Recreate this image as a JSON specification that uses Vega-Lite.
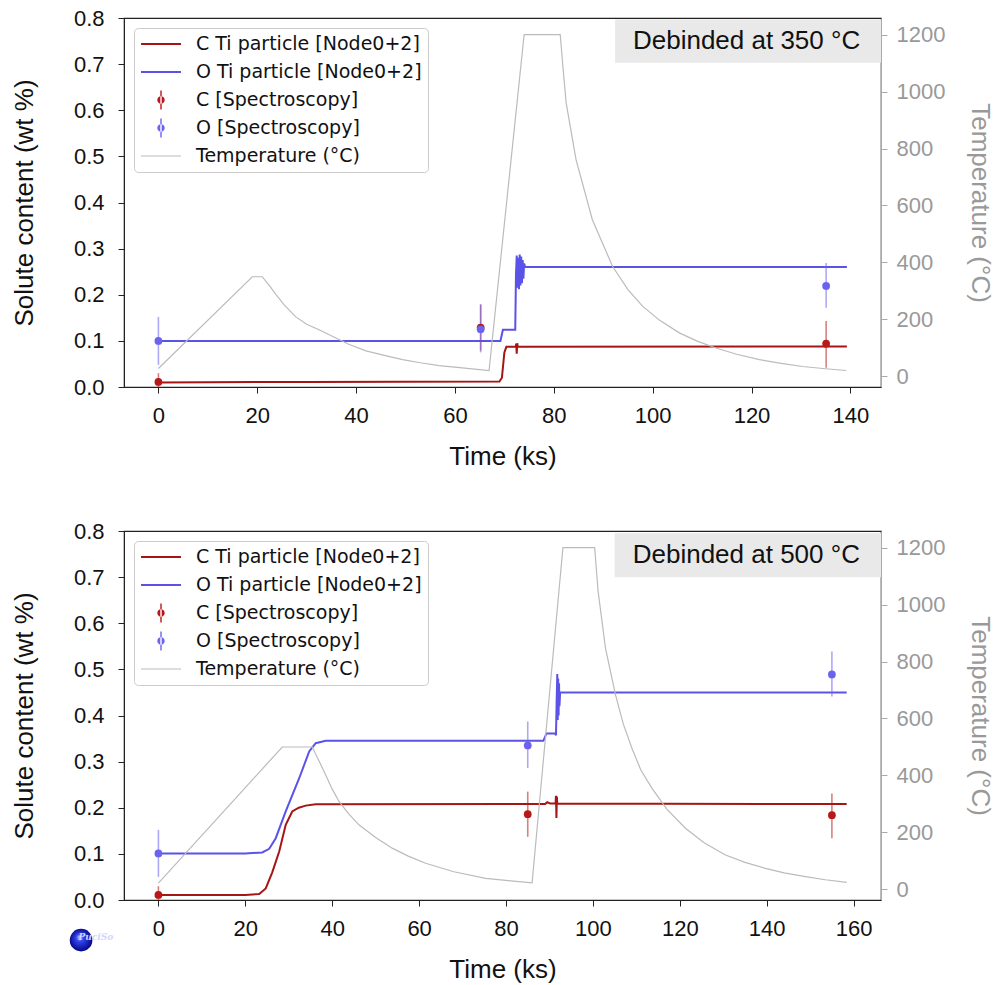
{
  "$schema": "https://vega.github.io/schema/vega-lite/v6.json",
  "background": "white",
  "padding": {"left": 10, "top": 6, "right": 2, "bottom": 2},
  "spacing": 49,
  "config": {
    "font": "Liberation Sans",
    "view": {"stroke": "#222222", "strokeWidth": 1.2},
    "axis": {"grid": false, "labelFont": "Liberation Sans", "labelFontSize": 22, "labelColor": "#111111", "titleFont": "Liberation Sans", "titleFontSize": 26, "titleFontWeight": "normal", "titleColor": "#111111", "domainColor": "#222222", "tickColor": "#222222", "tickSize": 6, "tickWidth": 1, "labelFlush": false, "labelOverlap": false},
    "legend": {"title": null, "orient": "top-left", "offset": 10, "padding": 6, "rowPadding": 8, "symbolSize": 400, "symbolStrokeWidth": 0, "symbolOffset": 11, "labelOffset": 25, "labelFont": "DejaVu Sans", "labelFontSize": 19, "labelColor": "#111111", "labelLimit": 400, "fillColor": "white", "strokeColor": "#cccccc", "cornerRadius": 4}
  },
  "datasets": {
    "temp350": [
      {"t": 0, "T": 28, "series": "Temperature (°C)"},
      {"t": 19.0, "T": 350, "series": "Temperature (°C)"},
      {"t": 21.0, "T": 350, "series": "Temperature (°C)"},
      {"t": 22.5, "T": 318, "series": "Temperature (°C)"},
      {"t": 23.8, "T": 287, "series": "Temperature (°C)"},
      {"t": 25.5, "T": 250, "series": "Temperature (°C)"},
      {"t": 27.8, "T": 209, "series": "Temperature (°C)"},
      {"t": 30.0, "T": 183, "series": "Temperature (°C)"},
      {"t": 32.5, "T": 164, "series": "Temperature (°C)"},
      {"t": 35.2, "T": 141, "series": "Temperature (°C)"},
      {"t": 38.5, "T": 113, "series": "Temperature (°C)"},
      {"t": 42.0, "T": 90, "series": "Temperature (°C)"},
      {"t": 45.5, "T": 75, "series": "Temperature (°C)"},
      {"t": 49.4, "T": 59, "series": "Temperature (°C)"},
      {"t": 53.0, "T": 48, "series": "Temperature (°C)"},
      {"t": 56.8, "T": 38, "series": "Temperature (°C)"},
      {"t": 62.0, "T": 29, "series": "Temperature (°C)"},
      {"t": 66.9, "T": 21, "series": "Temperature (°C)"},
      {"t": 74.0, "T": 1200, "series": "Temperature (°C)"},
      {"t": 81.3, "T": 1200, "series": "Temperature (°C)"},
      {"t": 81.9, "T": 1076, "series": "Temperature (°C)"},
      {"t": 82.5, "T": 960, "series": "Temperature (°C)"},
      {"t": 84.5, "T": 761, "series": "Temperature (°C)"},
      {"t": 87.8, "T": 550, "series": "Temperature (°C)"},
      {"t": 91.9, "T": 386, "series": "Temperature (°C)"},
      {"t": 95.0, "T": 305, "series": "Temperature (°C)"},
      {"t": 98.0, "T": 246, "series": "Temperature (°C)"},
      {"t": 101.5, "T": 196, "series": "Temperature (°C)"},
      {"t": 105.4, "T": 153, "series": "Temperature (°C)"},
      {"t": 109.0, "T": 124, "series": "Temperature (°C)"},
      {"t": 112.8, "T": 100, "series": "Temperature (°C)"},
      {"t": 117.0, "T": 78, "series": "Temperature (°C)"},
      {"t": 121.6, "T": 59, "series": "Temperature (°C)"},
      {"t": 126.0, "T": 46, "series": "Temperature (°C)"},
      {"t": 130.3, "T": 35, "series": "Temperature (°C)"},
      {"t": 135.0, "T": 27, "series": "Temperature (°C)"},
      {"t": 139.2, "T": 21, "series": "Temperature (°C)"}
    ],
    "model350": [
      {"t": 0, "c": 0.010, "series": "C Ti particle [Node0+2]"},
      {"t": 30, "c": 0.011, "series": "C Ti particle [Node0+2]"},
      {"t": 69.0, "c": 0.012, "series": "C Ti particle [Node0+2]"},
      {"t": 69.5, "c": 0.02, "series": "C Ti particle [Node0+2]"},
      {"t": 70.0, "c": 0.075, "series": "C Ti particle [Node0+2]"},
      {"t": 70.4, "c": 0.087, "series": "C Ti particle [Node0+2]"},
      {"t": 72.3, "c": 0.087, "series": "C Ti particle [Node0+2]"},
      {"t": 72.4, "c": 0.094, "series": "C Ti particle [Node0+2]"},
      {"t": 72.5, "c": 0.072, "series": "C Ti particle [Node0+2]"},
      {"t": 72.6, "c": 0.095, "series": "C Ti particle [Node0+2]"},
      {"t": 72.7, "c": 0.087, "series": "C Ti particle [Node0+2]"},
      {"t": 139.3, "c": 0.088, "series": "C Ti particle [Node0+2]"},
      {"t": 0, "c": 0.100, "series": "O Ti particle [Node0+2]"},
      {"t": 69.2, "c": 0.100, "series": "O Ti particle [Node0+2]"},
      {"t": 69.7, "c": 0.124, "series": "O Ti particle [Node0+2]"},
      {"t": 72.2, "c": 0.124, "series": "O Ti particle [Node0+2]"},
      {"t": 72.35, "c": 0.245, "series": "O Ti particle [Node0+2]"},
      {"t": 72.5, "c": 0.285, "series": "O Ti particle [Node0+2]"},
      {"t": 72.65, "c": 0.215, "series": "O Ti particle [Node0+2]"},
      {"t": 72.8, "c": 0.28, "series": "O Ti particle [Node0+2]"},
      {"t": 72.95, "c": 0.212, "series": "O Ti particle [Node0+2]"},
      {"t": 73.1, "c": 0.287, "series": "O Ti particle [Node0+2]"},
      {"t": 73.25, "c": 0.22, "series": "O Ti particle [Node0+2]"},
      {"t": 73.4, "c": 0.283, "series": "O Ti particle [Node0+2]"},
      {"t": 73.55, "c": 0.225, "series": "O Ti particle [Node0+2]"},
      {"t": 73.7, "c": 0.275, "series": "O Ti particle [Node0+2]"},
      {"t": 73.85, "c": 0.235, "series": "O Ti particle [Node0+2]"},
      {"t": 74.0, "c": 0.268, "series": "O Ti particle [Node0+2]"},
      {"t": 74.2, "c": 0.26, "series": "O Ti particle [Node0+2]"},
      {"t": 139.3, "c": 0.26, "series": "O Ti particle [Node0+2]"}
    ],
    "exp350": [
      {"t": 0, "c": 0.011, "lo": 0.0, "hi": 0.03, "series": "C [Spectroscopy]"},
      {"t": 65.2, "c": 0.129, "lo": 0.079, "hi": 0.179, "series": "C [Spectroscopy]"},
      {"t": 135.1, "c": 0.094, "lo": 0.042, "hi": 0.143, "series": "C [Spectroscopy]"},
      {"t": 0, "c": 0.100, "lo": 0.048, "hi": 0.152, "series": "O [Spectroscopy]"},
      {"t": 65.2, "c": 0.125, "lo": 0.075, "hi": 0.179, "series": "O [Spectroscopy]"},
      {"t": 135.1, "c": 0.219, "lo": 0.172, "hi": 0.269, "series": "O [Spectroscopy]"}
    ],
    "temp500": [
      {"t": 0, "T": 22, "series": "Temperature (°C)"},
      {"t": 28.5, "T": 500, "series": "Temperature (°C)"},
      {"t": 35.4, "T": 500, "series": "Temperature (°C)"},
      {"t": 37.0, "T": 450, "series": "Temperature (°C)"},
      {"t": 38.5, "T": 402, "series": "Temperature (°C)"},
      {"t": 40.0, "T": 352, "series": "Temperature (°C)"},
      {"t": 41.6, "T": 308, "series": "Temperature (°C)"},
      {"t": 43.8, "T": 265, "series": "Temperature (°C)"},
      {"t": 46.2, "T": 226, "series": "Temperature (°C)"},
      {"t": 50.0, "T": 182, "series": "Temperature (°C)"},
      {"t": 53.8, "T": 145, "series": "Temperature (°C)"},
      {"t": 57.5, "T": 117, "series": "Temperature (°C)"},
      {"t": 61.5, "T": 92, "series": "Temperature (°C)"},
      {"t": 68.0, "T": 62, "series": "Temperature (°C)"},
      {"t": 75.3, "T": 39, "series": "Temperature (°C)"},
      {"t": 80.5, "T": 31, "series": "Temperature (°C)"},
      {"t": 86.0, "T": 23, "series": "Temperature (°C)"},
      {"t": 93.1, "T": 1200, "series": "Temperature (°C)"},
      {"t": 100.4, "T": 1200, "series": "Temperature (°C)"},
      {"t": 101.2, "T": 1045, "series": "Temperature (°C)"},
      {"t": 102.9, "T": 846, "series": "Temperature (°C)"},
      {"t": 105.2, "T": 683, "series": "Temperature (°C)"},
      {"t": 107.0, "T": 580, "series": "Temperature (°C)"},
      {"t": 109.0, "T": 495, "series": "Temperature (°C)"},
      {"t": 111.0, "T": 420, "series": "Temperature (°C)"},
      {"t": 113.6, "T": 355, "series": "Temperature (°C)"},
      {"t": 117.0, "T": 282, "series": "Temperature (°C)"},
      {"t": 121.3, "T": 215, "series": "Temperature (°C)"},
      {"t": 125.5, "T": 165, "series": "Temperature (°C)"},
      {"t": 130.5, "T": 121, "series": "Temperature (°C)"},
      {"t": 135.0, "T": 95, "series": "Temperature (°C)"},
      {"t": 139.7, "T": 74, "series": "Temperature (°C)"},
      {"t": 144.0, "T": 58, "series": "Temperature (°C)"},
      {"t": 148.9, "T": 45, "series": "Temperature (°C)"},
      {"t": 153.5, "T": 34, "series": "Temperature (°C)"},
      {"t": 158.4, "T": 25, "series": "Temperature (°C)"}
    ],
    "model500": [
      {"t": 0, "c": 0.011, "series": "C Ti particle [Node0+2]"},
      {"t": 20, "c": 0.011, "series": "C Ti particle [Node0+2]"},
      {"t": 23.2, "c": 0.013, "series": "C Ti particle [Node0+2]"},
      {"t": 24.7, "c": 0.025, "series": "C Ti particle [Node0+2]"},
      {"t": 26.2, "c": 0.06, "series": "C Ti particle [Node0+2]"},
      {"t": 27.8, "c": 0.105, "series": "C Ti particle [Node0+2]"},
      {"t": 29.3, "c": 0.163, "series": "C Ti particle [Node0+2]"},
      {"t": 30.8, "c": 0.192, "series": "C Ti particle [Node0+2]"},
      {"t": 32.3, "c": 0.200, "series": "C Ti particle [Node0+2]"},
      {"t": 33.9, "c": 0.2046, "series": "C Ti particle [Node0+2]"},
      {"t": 36.2, "c": 0.2075, "series": "C Ti particle [Node0+2]"},
      {"t": 89.0, "c": 0.208, "series": "C Ti particle [Node0+2]"},
      {"t": 89.5, "c": 0.212, "series": "C Ti particle [Node0+2]"},
      {"t": 90.2, "c": 0.209, "series": "C Ti particle [Node0+2]"},
      {"t": 91.4, "c": 0.209, "series": "C Ti particle [Node0+2]"},
      {"t": 91.5, "c": 0.226, "series": "C Ti particle [Node0+2]"},
      {"t": 91.6, "c": 0.178, "series": "C Ti particle [Node0+2]"},
      {"t": 91.7, "c": 0.224, "series": "C Ti particle [Node0+2]"},
      {"t": 91.8, "c": 0.209, "series": "C Ti particle [Node0+2]"},
      {"t": 158.4, "c": 0.208, "series": "C Ti particle [Node0+2]"},
      {"t": 0, "c": 0.101, "series": "O Ti particle [Node0+2]"},
      {"t": 20, "c": 0.101, "series": "O Ti particle [Node0+2]"},
      {"t": 23.9, "c": 0.103, "series": "O Ti particle [Node0+2]"},
      {"t": 25.5, "c": 0.111, "series": "O Ti particle [Node0+2]"},
      {"t": 27.0, "c": 0.134, "series": "O Ti particle [Node0+2]"},
      {"t": 29.3, "c": 0.192, "series": "O Ti particle [Node0+2]"},
      {"t": 32.4, "c": 0.264, "series": "O Ti particle [Node0+2]"},
      {"t": 34.7, "c": 0.322, "series": "O Ti particle [Node0+2]"},
      {"t": 36.2, "c": 0.340, "series": "O Ti particle [Node0+2]"},
      {"t": 38.5, "c": 0.345, "series": "O Ti particle [Node0+2]"},
      {"t": 88.6, "c": 0.345, "series": "O Ti particle [Node0+2]"},
      {"t": 89.3, "c": 0.361, "series": "O Ti particle [Node0+2]"},
      {"t": 91.3, "c": 0.361, "series": "O Ti particle [Node0+2]"},
      {"t": 91.5, "c": 0.357, "series": "O Ti particle [Node0+2]"},
      {"t": 91.65, "c": 0.43, "series": "O Ti particle [Node0+2]"},
      {"t": 91.8, "c": 0.49, "series": "O Ti particle [Node0+2]"},
      {"t": 91.9, "c": 0.39, "series": "O Ti particle [Node0+2]"},
      {"t": 92.0, "c": 0.48, "series": "O Ti particle [Node0+2]"},
      {"t": 92.1, "c": 0.40, "series": "O Ti particle [Node0+2]"},
      {"t": 92.2, "c": 0.47, "series": "O Ti particle [Node0+2]"},
      {"t": 92.3, "c": 0.42, "series": "O Ti particle [Node0+2]"},
      {"t": 92.45, "c": 0.45, "series": "O Ti particle [Node0+2]"},
      {"t": 158.4, "c": 0.45, "series": "O Ti particle [Node0+2]"}
    ],
    "exp500": [
      {"t": 0, "c": 0.011, "lo": 0.0, "hi": 0.03, "series": "C [Spectroscopy]"},
      {"t": 85.0, "c": 0.186, "lo": 0.137, "hi": 0.235, "series": "C [Spectroscopy]"},
      {"t": 155.0, "c": 0.184, "lo": 0.134, "hi": 0.231, "series": "C [Spectroscopy]"},
      {"t": 0, "c": 0.101, "lo": 0.05, "hi": 0.152, "series": "O [Spectroscopy]"},
      {"t": 85.0, "c": 0.335, "lo": 0.286, "hi": 0.387, "series": "O [Spectroscopy]"},
      {"t": 155.0, "c": 0.489, "lo": 0.441, "hi": 0.5385, "series": "O [Spectroscopy]"}
    ],
    "boxes": [
      {"panel": "350", "label": "Debinded at 350 °C", "x0": 92.4, "x1": 146.2, "y0": 0.797, "y1": 0.703, "xm": 119.0, "ym": 0.751},
      {"panel": "500", "label": "Debinded at 500 °C", "x0": 105.0, "x1": 166.3, "y0": 0.795, "y1": 0.700, "xm": 135.3, "ym": 0.748}
    ],
    "logo": [
      {"label": "PuciSo", "t": -17.8, "c": -0.087, "tt": -14.4, "ct": -0.080}
    ]
  },
  "vconcat": [
    {
      "width": 757,
      "height": 369,
      "encoding": {
        "x": {"field": "t", "type": "quantitative", "scale": {"domain": [-6.96, 146.2], "nice": false, "zero": false}, "axis": {"values": [0, 20, 40, 60, 80, 100, 120, 140], "title": "Time (ks)", "labelPadding": 12, "titlePadding": 17}}
      },
      "layer": [
        {
          "data": {"name": "exp350"},
          "transform": [{"filter": "false"}],
          "mark": {"type": "point", "filled": true, "opacity": 1},
          "encoding": {
            "y": {"field": "c", "type": "quantitative", "scale": {"domain": [0, 0.8], "nice": false, "zero": false}, "axis": null},
            "color": {"field": "series", "type": "nominal", "legend": {}, "scale": {"domain": ["C Ti particle [Node0+2]", "O Ti particle [Node0+2]", "C [Spectroscopy]", "O [Spectroscopy]", "Temperature (°C)"], "range": ["#a51515", "#5b52e8", "#b81818", "#6b62ee", "#bbbbbb"]}},
            "shape": {"field": "series", "type": "nominal", "legend": {}, "scale": {"domain": ["C Ti particle [Node0+2]", "O Ti particle [Node0+2]", "C [Spectroscopy]", "O [Spectroscopy]", "Temperature (°C)"], "range": ["M-2,-0.1H2V0.1H-2Z", "M-2,-0.1H2V0.1H-2Z", "M-0.07,-0.95H0.07V0.95H-0.07Z M-0.37,0A0.37,0.37 0 1,0 0.37,0A0.37,0.37 0 1,0 -0.37,0Z", "M-0.07,-0.95H0.07V0.95H-0.07Z M-0.37,0A0.37,0.37 0 1,0 0.37,0A0.37,0.37 0 1,0 -0.37,0Z", "M-2,-0.06H2V0.06H-2Z"]}}
          }
        },
        {
          "data": {"name": "model350"},
          "mark": {"type": "line", "strokeWidth": 2},
          "encoding": {
            "y": {"field": "c", "type": "quantitative", "scale": {"domain": [0, 0.8], "nice": false, "zero": false}, "axis": {"orient": "left", "values": [0, 0.1, 0.2, 0.3, 0.4, 0.5, 0.6, 0.7, 0.8], "format": ".1f", "title": "Solute content (wt %)", "labelPadding": 14, "titlePadding": 36}},
            "stroke": {"field": "series", "type": "nominal", "legend": null, "scale": {"domain": ["C Ti particle [Node0+2]", "O Ti particle [Node0+2]", "C [Spectroscopy]", "O [Spectroscopy]", "Temperature (°C)"], "range": ["#a51515", "#5b52e8", "#b81818", "#6b62ee", "#bbbbbb"]}}
          }
        },
        {
          "data": {"name": "temp350"},
          "mark": {"type": "line", "strokeWidth": 1.2},
          "encoding": {
            "y": {"field": "T", "type": "quantitative", "scale": {"domain": [-37, 1258], "nice": false, "zero": false}, "axis": {"orient": "right", "values": [0, 200, 400, 600, 800, 1000, 1200], "format": "d", "title": "Temperature (°C)", "labelColor": "#999999", "titleColor": "#999999", "domainColor": "#aaaaaa", "tickColor": "#aaaaaa", "labelPadding": 9, "titlePadding": 22}},
            "stroke": {"field": "series", "type": "nominal", "legend": null}
          }
        },
        {
          "data": {"name": "exp350"},
          "mark": {"type": "rule", "strokeWidth": 1.6, "opacity": 0.55},
          "encoding": {
            "y": {"field": "lo", "type": "quantitative", "scale": {"domain": [0, 0.8], "nice": false, "zero": false}, "axis": null},
            "y2": {"field": "hi"},
            "stroke": {"field": "series", "type": "nominal", "legend": null}
          }
        },
        {
          "data": {"name": "exp350"},
          "mark": {"type": "point", "filled": true, "size": 60, "opacity": 1},
          "encoding": {
            "y": {"field": "c", "type": "quantitative", "scale": {"domain": [0, 0.8], "nice": false, "zero": false}, "axis": null},
            "fill": {"field": "series", "type": "nominal", "legend": null, "scale": {"domain": ["C Ti particle [Node0+2]", "O Ti particle [Node0+2]", "C [Spectroscopy]", "O [Spectroscopy]", "Temperature (°C)"], "range": ["#a51515", "#5b52e8", "#b81818", "#6b62ee", "#bbbbbb"]}}
          }
        },
        {
          "data": {"name": "boxes"},
          "transform": [{"filter": "datum.panel === '350'"}],
          "mark": {"type": "rect", "fill": "#e9e9e9"},
          "encoding": {
            "x": {"field": "x0", "type": "quantitative"},
            "x2": {"field": "x1"},
            "y": {"field": "y0", "type": "quantitative", "scale": {"domain": [0, 0.8], "nice": false, "zero": false}, "axis": null},
            "y2": {"field": "y1"}
          }
        },
        {
          "data": {"name": "boxes"},
          "transform": [{"filter": "datum.panel === '350'"}],
          "mark": {"type": "text", "font": "Liberation Sans", "fontSize": 26, "color": "#111111", "align": "center", "baseline": "middle"},
          "encoding": {
            "x": {"field": "xm", "type": "quantitative"},
            "y": {"field": "ym", "type": "quantitative", "scale": {"domain": [0, 0.8], "nice": false, "zero": false}, "axis": null},
            "text": {"field": "label"}
          }
        }
      ],
      "resolve": {"scale": {"y": "independent"}}
    },
    {
      "width": 757,
      "height": 369,
      "encoding": {
        "x": {"field": "t", "type": "quantitative", "scale": {"domain": [-7.92, 166.3], "nice": false, "zero": false}, "axis": {"values": [0, 20, 40, 60, 80, 100, 120, 140, 160], "title": "Time (ks)", "labelPadding": 12, "titlePadding": 17}}
      },
      "layer": [
        {
          "data": {"name": "exp500"},
          "transform": [{"filter": "false"}],
          "mark": {"type": "point", "filled": true, "opacity": 1},
          "encoding": {
            "y": {"field": "c", "type": "quantitative", "scale": {"domain": [0, 0.8], "nice": false, "zero": false}, "axis": null},
            "color": {"field": "series", "type": "nominal", "legend": {}, "scale": {"domain": ["C Ti particle [Node0+2]", "O Ti particle [Node0+2]", "C [Spectroscopy]", "O [Spectroscopy]", "Temperature (°C)"], "range": ["#a51515", "#5b52e8", "#b81818", "#6b62ee", "#bbbbbb"]}},
            "shape": {"field": "series", "type": "nominal", "legend": {}, "scale": {"domain": ["C Ti particle [Node0+2]", "O Ti particle [Node0+2]", "C [Spectroscopy]", "O [Spectroscopy]", "Temperature (°C)"], "range": ["M-2,-0.1H2V0.1H-2Z", "M-2,-0.1H2V0.1H-2Z", "M-0.07,-0.95H0.07V0.95H-0.07Z M-0.37,0A0.37,0.37 0 1,0 0.37,0A0.37,0.37 0 1,0 -0.37,0Z", "M-0.07,-0.95H0.07V0.95H-0.07Z M-0.37,0A0.37,0.37 0 1,0 0.37,0A0.37,0.37 0 1,0 -0.37,0Z", "M-2,-0.06H2V0.06H-2Z"]}}
          }
        },
        {
          "data": {"name": "model500"},
          "mark": {"type": "line", "strokeWidth": 2},
          "encoding": {
            "y": {"field": "c", "type": "quantitative", "scale": {"domain": [0, 0.8], "nice": false, "zero": false}, "axis": {"orient": "left", "values": [0, 0.1, 0.2, 0.3, 0.4, 0.5, 0.6, 0.7, 0.8], "format": ".1f", "title": "Solute content (wt %)", "labelPadding": 14, "titlePadding": 36}},
            "stroke": {"field": "series", "type": "nominal", "legend": null, "scale": {"domain": ["C Ti particle [Node0+2]", "O Ti particle [Node0+2]", "C [Spectroscopy]", "O [Spectroscopy]", "Temperature (°C)"], "range": ["#a51515", "#5b52e8", "#b81818", "#6b62ee", "#bbbbbb"]}}
          }
        },
        {
          "data": {"name": "temp500"},
          "mark": {"type": "line", "strokeWidth": 1.2},
          "encoding": {
            "y": {"field": "T", "type": "quantitative", "scale": {"domain": [-37, 1258], "nice": false, "zero": false}, "axis": {"orient": "right", "values": [0, 200, 400, 600, 800, 1000, 1200], "format": "d", "title": "Temperature (°C)", "labelColor": "#999999", "titleColor": "#999999", "domainColor": "#aaaaaa", "tickColor": "#aaaaaa", "labelPadding": 9, "titlePadding": 22}},
            "stroke": {"field": "series", "type": "nominal", "legend": null}
          }
        },
        {
          "data": {"name": "exp500"},
          "mark": {"type": "rule", "strokeWidth": 1.6, "opacity": 0.55},
          "encoding": {
            "y": {"field": "lo", "type": "quantitative", "scale": {"domain": [0, 0.8], "nice": false, "zero": false}, "axis": null},
            "y2": {"field": "hi"},
            "stroke": {"field": "series", "type": "nominal", "legend": null}
          }
        },
        {
          "data": {"name": "exp500"},
          "mark": {"type": "point", "filled": true, "size": 60, "opacity": 1},
          "encoding": {
            "y": {"field": "c", "type": "quantitative", "scale": {"domain": [0, 0.8], "nice": false, "zero": false}, "axis": null},
            "fill": {"field": "series", "type": "nominal", "legend": null, "scale": {"domain": ["C Ti particle [Node0+2]", "O Ti particle [Node0+2]", "C [Spectroscopy]", "O [Spectroscopy]", "Temperature (°C)"], "range": ["#a51515", "#5b52e8", "#b81818", "#6b62ee", "#bbbbbb"]}}
          }
        },
        {
          "data": {"name": "boxes"},
          "transform": [{"filter": "datum.panel === '500'"}],
          "mark": {"type": "rect", "fill": "#e9e9e9"},
          "encoding": {
            "x": {"field": "x0", "type": "quantitative"},
            "x2": {"field": "x1"},
            "y": {"field": "y0", "type": "quantitative", "scale": {"domain": [0, 0.8], "nice": false, "zero": false}, "axis": null},
            "y2": {"field": "y1"}
          }
        },
        {
          "data": {"name": "boxes"},
          "transform": [{"filter": "datum.panel === '500'"}],
          "mark": {"type": "text", "font": "Liberation Sans", "fontSize": 26, "color": "#111111", "align": "center", "baseline": "middle"},
          "encoding": {
            "x": {"field": "xm", "type": "quantitative"},
            "y": {"field": "ym", "type": "quantitative", "scale": {"domain": [0, 0.8], "nice": false, "zero": false}, "axis": null},
            "text": {"field": "label"}
          }
        },
        {
          "data": {"name": "logo"},
          "mark": {"type": "point", "filled": true, "size": 510, "opacity": 1, "strokeWidth": 0, "fill": {"gradient": "radial", "x1": 0.42, "y1": 0.35, "x2": 0.5, "y2": 0.5, "r1": 0, "r2": 0.55, "stops": [{"offset": 0, "color": "#c4ccff"}, {"offset": 0.3, "color": "#3345f0"}, {"offset": 1, "color": "#00007a"}]}},
          "encoding": {
            "y": {"field": "c", "type": "quantitative", "scale": {"domain": [0, 0.8], "nice": false, "zero": false}, "axis": null}
          }
        },
        {
          "data": {"name": "logo"},
          "mark": {"type": "text", "font": "DejaVu Serif", "fontSize": 9, "fontStyle": "italic", "fontWeight": "bold", "color": "#d0d6ff", "align": "center", "baseline": "middle"},
          "encoding": {
            "x": {"field": "tt", "type": "quantitative"},
            "y": {"field": "ct", "type": "quantitative", "scale": {"domain": [0, 0.8], "nice": false, "zero": false}, "axis": null},
            "text": {"field": "label"}
          }
        }
      ],
      "resolve": {"scale": {"y": "independent"}}
    }
  ],
  "resolve": {"scale": {"color": "independent", "shape": "independent"}, "legend": {"color": "independent", "shape": "independent"}}
}
